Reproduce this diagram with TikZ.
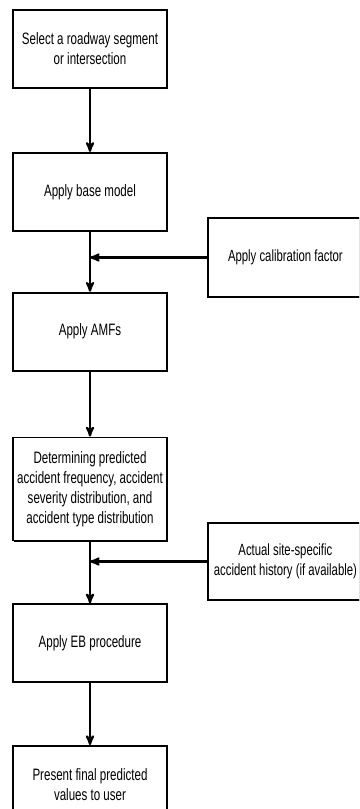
\documentclass[tikz,border=0pt]{standalone}
\usepackage{fontspec}
\setmainfont[FakeStretch=0.7]{Liberation Sans}
\usepackage{tikz}
\usetikzlibrary{arrows,positioning,shadows}
\tikzset{
    %Define standard arrow tip
    >=stealth',
    %Define style for boxes
    stepbox/.style={
           rectangle,
           draw=black, line width=1.8pt,
           fill=white,
           drop shadow={shadow xshift=1pt, shadow yshift=-1.2pt, fill=black, opacity=1},
           minimum width=154pt,
           minimum height=78pt,
           font=\fontsize{16.5}{20}\selectfont,
           align=center},
    inputbox/.style={
           stepbox,
           minimum width=155pt,
           font=\fontsize{16.2}{20}\selectfont},
    % Define arrow style
    pil/.style={
           ->,
           line width=2.2pt,
           shorten <=0pt,
           shorten >=0pt}
}
\begin{document}
\begin{tikzpicture}
\useasboundingbox (0,0) rectangle (359pt,-809pt);
\clip (0,0) rectangle (359pt,-809pt);
\node[stepbox] (select) at (90pt,-49pt) {Select a roadway segment\\or intersection};
\node[stepbox, below=63pt of select] (base) {Apply base model};
\node[stepbox, below=60pt of base] (amf) {Apply AMFs};
\node[stepbox, below=65pt of amf, minimum height=103pt] (predict) {Determining predicted\\accident frequency, accident\\severity distribution, and\\accident type distribution};
\node[stepbox, below=62pt of predict] (eb) {Apply EB procedure};
\node[stepbox, below=62pt of eb] (present) {Present final predicted\\values to user};
\node[inputbox, anchor=west, minimum height=79pt] (calib) at (207pt,-257.5pt) {Apply calibration factor};
\node[inputbox, anchor=west, minimum height=77pt] (history) at (207pt,-561.5pt) {Actual site-specific\\accident history (if available)};
\draw[pil] (select) -- (base);
\draw[pil] (base) -- (amf);
\draw[pil] (amf) -- (predict);
\draw[pil] (predict) -- (eb);
\draw[pil] (eb) -- (present);
\draw[pil] (calib.west) -- (calib.west -| base.south);
\draw[pil] (history.west) -- (history.west -| eb.north);
\end{tikzpicture}
\end{document}
